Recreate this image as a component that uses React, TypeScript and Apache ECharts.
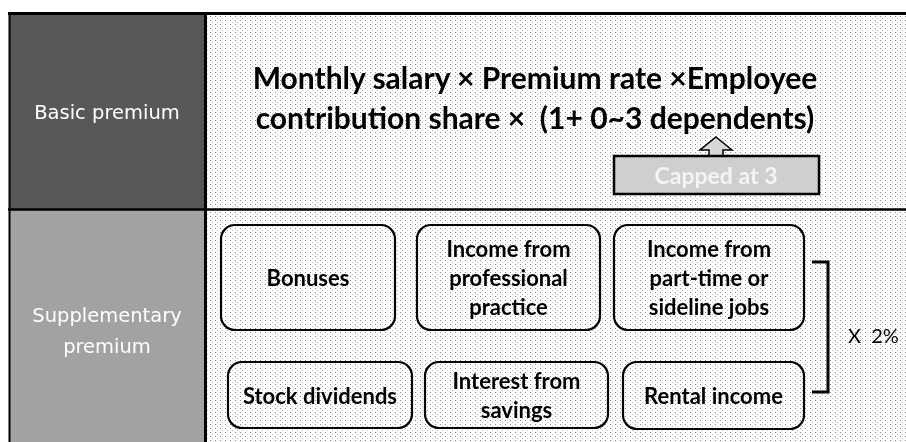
import React, { useEffect, useRef } from "react";
import * as echarts from "echarts";

const rowLabels = ["Basic premium", "Supplementary\npremium"];
const formulaLines = [
  "Monthly salary × Premium rate ×Employee",
  "contribution share ×  (1+ 0~3 dependents)",
];
const capNote = "Capped at 3";
const incomeItems = [
  "Bonuses",
  "Income from\nprofessional\npractice",
  "Income from\npart-time or\nsideline jobs",
  "Stock dividends",
  "Interest from\nsavings",
  "Rental income",
];
const rateLabel = "X  2%";

// layout (pixel boxes for the six income items)
const boxLayout = [
  { x: 221, y: 225, w: 174, h: 105 },
  { x: 417, y: 225, w: 183, h: 105 },
  { x: 614, y: 225, w: 190, h: 105 },
  { x: 228, y: 362, w: 184, h: 66 },
  { x: 425, y: 362, w: 183, h: 66 },
  { x: 623, y: 362, w: 181, h: 67 },
];

function makeDots(): any {
  const c = document.createElement("canvas");
  c.width = 5;
  c.height = 4;
  const ctx = c.getContext("2d");
  if (!ctx) return "#f3f3f3";
  ctx.fillStyle = "#ffffff";
  ctx.fillRect(0, 0, 5, 4);
  ctx.fillStyle = "#8a8a8a";
  ctx.fillRect(0, 0, 1, 1);
  ctx.fillStyle = "#c4c4c4";
  ctx.fillRect(2, 2, 1, 1);
  return { image: c.toDataURL(), repeat: "repeat", imageWidth: 5, imageHeight: 4 };
}

export default function App() {
  const ref = useRef<HTMLDivElement>(null);
  useEffect(() => {
    if (!ref.current) return;
    const chart = echarts.init(ref.current, undefined, { renderer: "svg" });
    const els: any[] = [];
    // backgrounds
    els.push({ type: "rect", shape: { x: 207, y: 14, width: 699, height: 428 }, style: { fill: makeDots() } });
    els.push({ type: "rect", shape: { x: 10, y: 14, width: 195, height: 195 }, style: { fill: "#585858" } });
    els.push({ type: "rect", shape: { x: 10, y: 210, width: 195, height: 232 }, style: { fill: "#a2a2a2" } });
    // frame lines
    const line = (x1: number, y1: number, x2: number, y2: number, w: number) => ({
      type: "line",
      shape: { x1, y1, x2, y2 },
      style: { stroke: "#000", lineWidth: w },
    });
    els.push(line(8, 13.5, 906, 13.5, 3));
    els.push(line(9.5, 12, 9.5, 442, 2));
    els.push(line(205.5, 12, 205.5, 442, 3));
    els.push(line(8, 209.5, 906, 209.5, 2.5));
    // row labels
    els.push({
      type: "text",
      style: { text: rowLabels[0], x: 107, y: 112, fill: "#fff", font: "19.5px 'DejaVu Sans'", align: "center", verticalAlign: "middle" },
    });
    els.push({
      type: "text",
      style: { text: rowLabels[1], x: 107, y: 331, fill: "#fff", font: "19.5px 'DejaVu Sans'", lineHeight: 31, align: "center", verticalAlign: "middle" },
    });
    // formula
    formulaLines.forEach((t, i) => {
      els.push({
        type: "text",
        style: { text: t, x: 535, y: 77 + i * 40, fill: "#000", font: "bold 30px Lato", align: "center", verticalAlign: "middle" },
      });
    });
    // arrow + cap box
    els.push({
      type: "polygon",
      shape: { points: [[716, 137], [732, 150], [723, 150], [723, 156], [709, 156], [709, 150], [700, 150]] },
      style: { fill: "#d6d6d6", stroke: "#000", lineWidth: 1.5 },
    });
    els.push({ type: "rect", shape: { x: 614, y: 156, width: 205, height: 38 }, style: { fill: "#cfcfcf", stroke: "#000", lineWidth: 2.5 } });
    els.push({
      type: "text",
      style: { text: capNote, x: 716, y: 175, fill: "#f4f4f4", font: "bold 23px Lato", align: "center", verticalAlign: "middle" },
    });
    // income boxes
    incomeItems.forEach((t, i) => {
      const b = boxLayout[i];
      els.push({ type: "rect", shape: { x: b.x, y: b.y, width: b.w, height: b.h, r: 14 }, style: { fill: "none", stroke: "#000", lineWidth: 2.2 } });
      els.push({
        type: "text",
        style: { text: t, x: b.x + b.w / 2, y: b.y + b.h / 2, fill: "#000", font: "bold 22px Lato", lineHeight: 29, align: "center", verticalAlign: "middle" },
      });
    });
    // bracket
    els.push({
      type: "polyline",
      shape: { points: [[812, 262], [828, 262], [828, 392], [812, 392]] },
      style: { stroke: "#000", lineWidth: 3, fill: "none" },
    });
    els.push({
      type: "text",
      style: { text: rateLabel, x: 848, y: 335, fill: "#000", font: "20px Lato", align: "left", verticalAlign: "middle" },
    });
    chart.setOption({ animation: false, graphic: { elements: els } });
    return () => chart.dispose();
  }, []);
  return <div ref={ref} style={{ position: "fixed", left: 0, top: 0, width: 906, height: 442 }} />;
}
